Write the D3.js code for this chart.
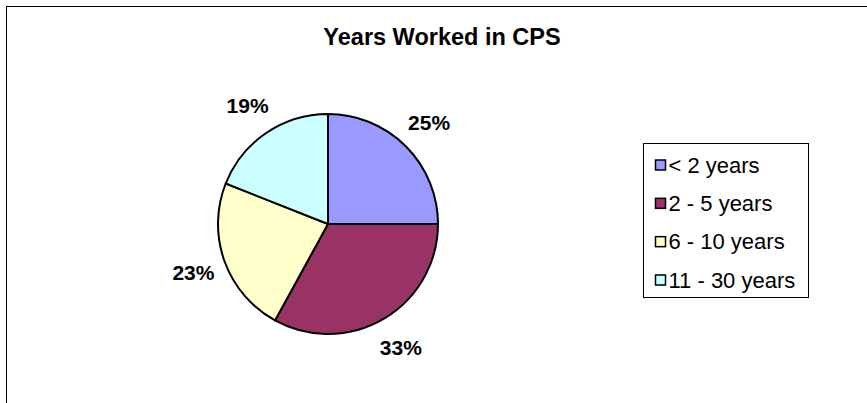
<!DOCTYPE html>
<html>
<head>
<meta charset="utf-8">
<script src="https://cdn.jsdelivr.net/npm/d3@7"></script>
<style>
body{margin:0;background:#fff;}
svg{display:block;font-family:Arial,"Liberation Sans",sans-serif;}
</style>
</head>
<body>
<svg id="chart" width="867" height="403"></svg>
<script>
const categories = ["< 2 years", "2 - 5 years", "6 - 10 years", "11 - 30 years"];
const values = [25, 33, 23, 19];
const colors = ["#9999FF", "#993366", "#FFFFCC", "#CCFFFF"];
const title = "Years Worked in CPS";

const svg = d3.select("#chart");
// outer frame
svg.append("rect").attr("x", 6.5).attr("y", 6.5).attr("width", 900).attr("height", 500)
  .attr("fill", "#fff").attr("stroke", "#000").attr("stroke-width", 1);

svg.append("text").attr("x", 442).attr("y", 45).attr("text-anchor", "middle")
  .attr("font-size", 23.5).attr("font-weight", "bold").text(title);

const cx = 328, cy = 224, r = 110;
const g = svg.append("g").attr("transform", `translate(${cx},${cy})`);
const pie = d3.pie().sort(null).value(d => d)(values);
const arc = d3.arc().innerRadius(0).outerRadius(r);
const labelArc = d3.arc().innerRadius(143).outerRadius(143);
const total = d3.sum(values);

g.selectAll("path").data(pie).enter().append("path")
  .attr("d", arc).attr("fill", (d, i) => colors[i])
  .attr("stroke", "#000").attr("stroke-width", 2).attr("stroke-linejoin", "round");

g.selectAll("text.lbl").data(pie).enter().append("text").attr("class", "lbl")
  .attr("transform", d => `translate(${labelArc.centroid(d)})`)
  .attr("dy", "0.36em").attr("text-anchor", "middle")
  .attr("font-size", 21).attr("font-weight", "bold")
  .text(d => Math.round(d.value / total * 100) + "%");

// legend
const lx = 643.5, ly = 143.5, lw = 165, lh = 154;
svg.append("rect").attr("x", lx).attr("y", ly).attr("width", lw).attr("height", lh)
  .attr("fill", "#fff").attr("stroke", "#000").attr("stroke-width", 1);
const rowY = d3.scalePoint().domain(categories).range([165, 280]);
const leg = svg.selectAll("g.leg").data(categories).enter().append("g").attr("class", "leg")
  .attr("transform", d => `translate(0,${rowY(d)})`);
leg.append("rect").attr("x", 655.5).attr("y", -5).attr("width", 10).attr("height", 10)
  .attr("fill", (d, i) => colors[i]).attr("stroke", "#000").attr("stroke-width", 1.5);
leg.append("text").attr("x", 668.5).attr("y", 7.5)
  .attr("font-size", 22).text(d => d);
</script>
</body>
</html>
